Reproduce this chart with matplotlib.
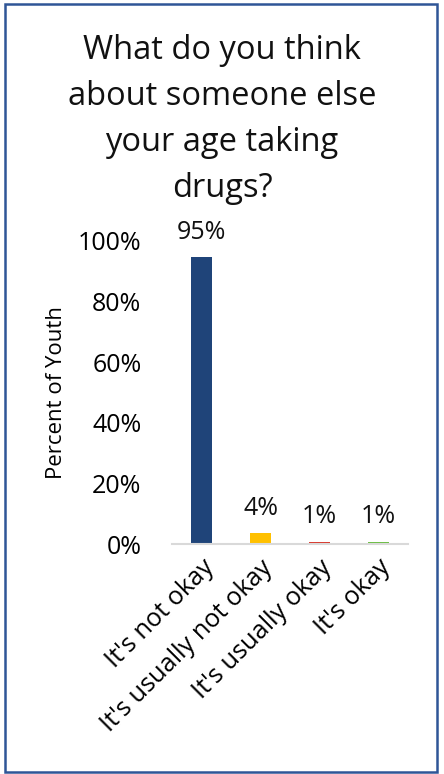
import matplotlib
matplotlib.use("Agg")
import matplotlib.pyplot as plt
from matplotlib.patches import Rectangle
from matplotlib.transforms import ScaledTranslation

categories = ["It's not okay", "It's usually not okay", "It's usually okay", "It's okay"]
values = [94.7, 3.6, 0.8, 0.8]
labels = ["95%", "4%", "1%", "1%"]
colors = ["#1F4479", "#FFC000", "#D83B2F", "#6DBE45"]
yticks = [0, 20, 40, 60, 80, 100]
ytick_labels = ["0%", "20%", "40%", "60%", "80%", "100%"]
title = "What do you think\nabout someone else\nyour age taking\ndrugs?"

plt.rcParams['font.family'] = ['Open Sans', 'DejaVu Sans']

W, H = 444, 774
fig = plt.figure(figsize=(W / 100, H / 100), dpi=100)
ax = fig.add_axes([172 / W, 1 - 544 / H, (408 - 172) / W, (544 - 241) / H])

x = range(len(categories))
ax.bar(x, values, width=0.34, color=colors, zorder=2)
for xi, v, lab in zip(x, values, labels):
    ax.annotate(lab, (xi, v), xytext=(0, 9), textcoords="offset points",
                ha="center", va="bottom", fontsize=18, color="#111111",
                annotation_clip=False)

ax.set_xlim(-0.5, 3.5)
ax.set_ylim(0, 100)
ax.set_yticks(yticks)
ax.set_yticklabels(ytick_labels, fontsize=18)
ax.set_xticks(list(x))
ax.set_xticklabels(categories, rotation=45, ha="right", rotation_mode="anchor",
                   fontsize=18.3)
shift = ScaledTranslation(-5 / 100, 0, fig.dpi_scale_trans)
for lbl in ax.get_xticklabels():
    lbl.set_transform(lbl.get_transform() + shift)
ax.tick_params(axis="x", length=0, pad=8)
ax.tick_params(axis="y", length=0, pad=22)
for s in ["top", "right", "left"]:
    ax.spines[s].set_visible(False)
ax.spines["bottom"].set_color("#D9D9D9")
ax.spines["bottom"].set_linewidth(1.5)
ax.set_ylabel("Percent of Youth", fontsize=16, labelpad=8)

fig.text(222 / W, 1 - 34 / H, title, ha="center", va="top", fontsize=23.5,
         linespacing=1.52, color="#111111")

fig.patches.append(Rectangle((4.5 / W, 1 - 771.5 / H), (436.5 - 4.5) / W, (771.5 - 4) / H,
                             transform=fig.transFigure, fill=False,
                             edgecolor="#2F5597", linewidth=1.8))

fig.savefig("out.png", dpi=100)
